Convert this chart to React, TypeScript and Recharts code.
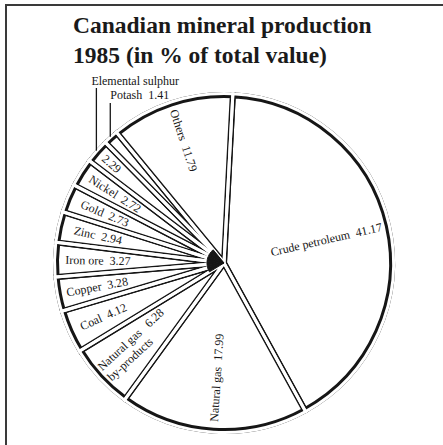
import React from 'react';
import { PieChart, Pie, Cell } from 'recharts';

const minerals = [
  'Crude petroleum',
  'Natural gas',
  'Natural gas by-products',
  'Coal',
  'Copper',
  'Iron ore',
  'Zinc',
  'Gold',
  'Nickel',
  'Elemental sulphur',
  'Potash',
  'Others',
];
const shares = [41.17, 17.99, 6.28, 4.12, 3.28, 3.27, 2.94, 2.73, 2.72, 2.29, 1.41, 11.79];
const titleLines = ['Canadian mineral production', '1985 (in % of total value)'];

const data = minerals.map((name, i) => ({ name, value: shares[i] }));

const RAD = Math.PI / 180;
const INK = '#161616';
const FONT = '"Liberation Serif", "DejaVu Serif", serif';
const CX = 224;
const CY = 263;
const R = 168;

// where each slice's text sits, as distance from the centre
const labelRadius: Record<number, number> = { 0: 105, 1: 115, 2: 121, 3: 132, 5: 126, 9: 150 };

const renderLabel = (props: any) => {
  const { cx, cy, midAngle, index } = props;
  const name = minerals[index];
  const val = shares[index].toFixed(2);
  const cos = Math.cos(midAngle * RAD);
  const sin = Math.sin(midAngle * RAD);
  const r = labelRadius[index] ?? 129;
  const x = cx + r * cos;
  const y = cy - r * sin;
  // keep text upright: right half reads outwards, left half reads inwards
  const rot = cos >= 0 ? -midAngle : -(midAngle + 180);
  const textProps = { fill: INK, fontSize: 12, fontFamily: FONT };
  // point on the rim for leader lines
  const ax = cx + (R + 2) * cos;
  const ay = cy - (R + 2) * sin;

  if (index === 10) {
    return (
      <g key={`l${index}`}>
        <line x1={ax} y1={ay} x2={ax} y2={103} stroke={INK} strokeWidth={1.3} />
        <text x={ax} y={99} {...textProps} style={{ whiteSpace: 'pre' }}>{`${name}  ${val}`}</text>
      </g>
    );
  }
  if (index === 9) {
    return (
      <g key={`l${index}`}>
        <line x1={ax} y1={ay} x2={ax} y2={88} stroke={INK} strokeWidth={1.3} />
        <text x={ax - 5} y={85} {...textProps}>{name}</text>
        <g transform={`translate(${x},${y}) rotate(${rot})`}>
          <text textAnchor="middle" dominantBaseline="central" {...textProps}>{val}</text>
        </g>
      </g>
    );
  }
  let inner: React.ReactNode;
  if (index === 2) {
    inner = (
      <text textAnchor="start" {...textProps} style={{ whiteSpace: 'pre' }}>
        <tspan x={-42} y={-3}>{`Natural gas   ${val}`}</tspan>
        <tspan x={-42} y={11}>by-products</tspan>
      </text>
    );
  } else {
    inner = (
      <text textAnchor="middle" dominantBaseline="central" {...textProps} style={{ whiteSpace: 'pre' }}>
        {`${name}  ${val}`}
      </text>
    );
  }
  return (
    <g key={`l${index}`} transform={`translate(${x},${y}) rotate(${rot})`}>
      {inner}
    </g>
  );
};

export default function App() {
  return (
    <div style={{ position: 'absolute', left: 0, top: 0, width: 443, height: 445, background: '#fff' }}>
      <svg width={443} height={445} style={{ position: 'absolute', left: 0, top: 0 }}>
        <line x1={5} y1={5} x2={443} y2={5} stroke="#3a3a3a" strokeWidth={2} />
        <line x1={6} y1={4} x2={6} y2={445} stroke="#3a3a3a" strokeWidth={2} />
        {titleLines.map((t, i) => (
          <text key={t} x={73} y={33 + i * 30} fontSize={23.5} fontWeight="bold" fontFamily={FONT} fill="#1a1a1a">
            {t}
          </text>
        ))}
      </svg>
      <div style={{ position: 'absolute', left: 0, top: 0 }}>
        <PieChart width={443} height={445} margin={{ top: 0, right: 0, bottom: 0, left: 0 }}>
          {/* thick black outline */}
          <Pie
            data={data}
            dataKey="value"
            nameKey="name"
            cx={CX}
            cy={CY}
            outerRadius={R}
            startAngle={87}
            endAngle={-273}
            fill="#fff"
            stroke={INK}
            strokeWidth={6}
            isAnimationActive={false}
            labelLine={false}
          />
          {/* white core of the outline, leaves a double line between slices */}
          <Pie
            data={data}
            dataKey="value"
            nameKey="name"
            cx={CX}
            cy={CY}
            outerRadius={R + 1.5}
            startAngle={87}
            endAngle={-273}
            fill="none"
            stroke="#fff"
            strokeWidth={3}
            isAnimationActive={false}
            labelLine={false}
          />
          {/* dark hub where the narrow slices meet */}
          <Pie
            data={data}
            dataKey="value"
            nameKey="name"
            cx={CX}
            cy={CY}
            outerRadius={17}
            startAngle={87}
            endAngle={-273}
            isAnimationActive={false}
            labelLine={false}
            label={renderLabel}
          >
            {data.map((d, i) => {
              const dark = i >= 3 && i <= 10;
              return <Cell key={d.name} fill={dark ? INK : 'none'} stroke={dark ? INK : 'none'} strokeWidth={1} />;
            })}
          </Pie>
        </PieChart>
      </div>
    </div>
  );
}
